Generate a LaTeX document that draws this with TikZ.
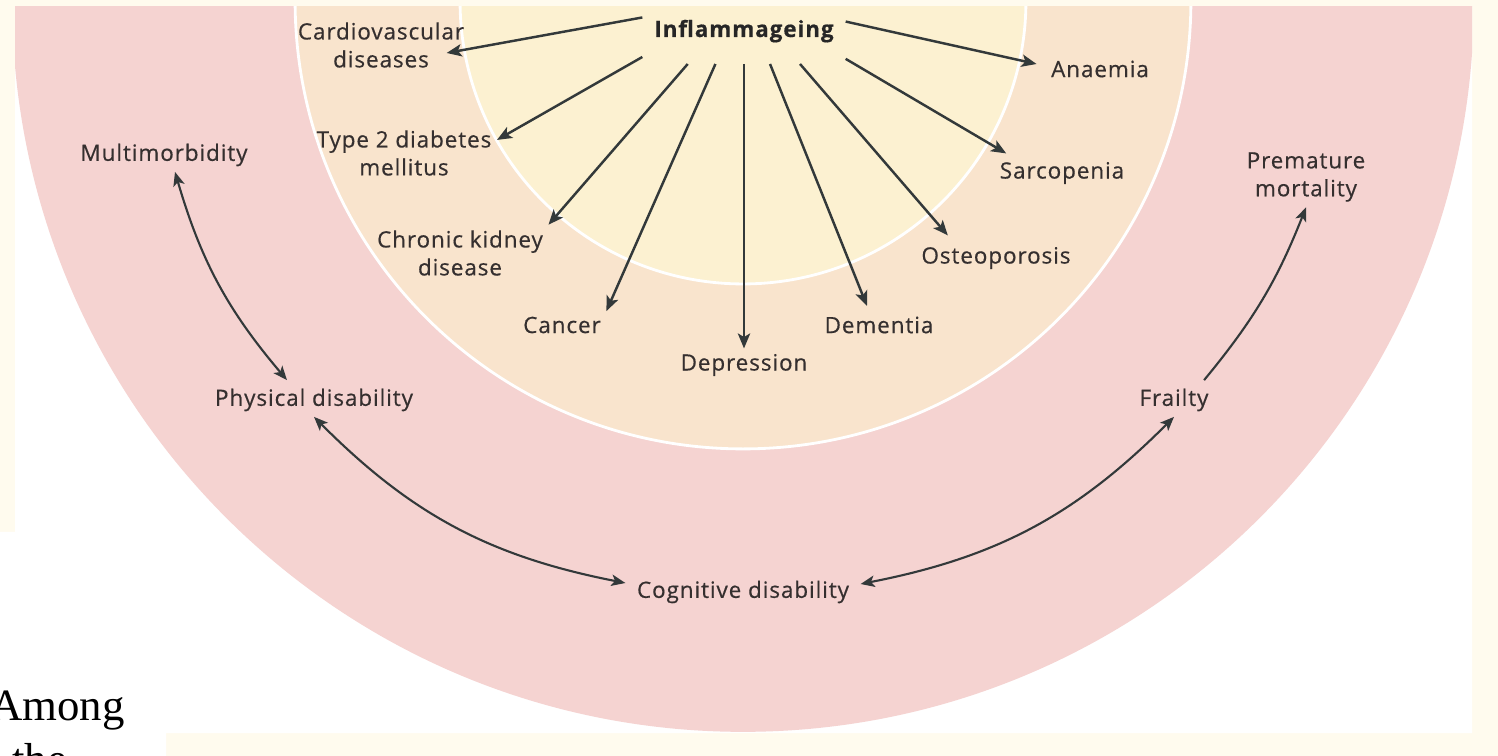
\documentclass[tikz,border=0pt]{standalone}
\usepackage{fontspec}
\newfontfamily\labelfont{Open Sans}[LetterSpace=4,FakeBold=0.5]
\newfontfamily\pagefont{Liberation Serif}
\usetikzlibrary{arrows.meta}

\definecolor{pagecream}{HTML}{FFFBEE}
\definecolor{outerpink}{HTML}{F5D3D1}
\definecolor{midbeige}{HTML}{F9E4CD}
\definecolor{innercream}{HTML}{FCF1D1}
\definecolor{textgrey}{HTML}{352F2F}
\definecolor{arrowgrey}{HTML}{33393A}

\tikzset{
  term/.style={font=\labelfont\fontsize{12.8pt}{15.9pt}\selectfont, text=textgrey, align=center, inner sep=3pt},
  spoke/.style={draw=arrowgrey, line width=1.4pt, -{Stealth[length=8.5pt,width=7pt,inset=2pt]}},
  ringlink/.style={draw=arrowgrey, line width=1.2pt, {Stealth[length=8pt,width=6.5pt,inset=2pt]}-{Stealth[length=8pt,width=6.5pt,inset=2pt]}},
  ringarrow/.style={draw=arrowgrey, line width=1.2pt, -{Stealth[length=8pt,width=6.5pt,inset=2pt]}}
}

\begin{document}
\begin{tikzpicture}[x=0.02cm,y=0.02cm]
    \useasboundingbox (0,0) rectangle (1498,-756);
    \clip (0,0) rectangle (1498,-756);

    % Page behind the figure
    \fill[pagecream] (0,0) rectangle (1498,-756);
    \fill[white] (15,-7) -- (1472,-7) -- (1472,-733) -- (166,-733) -- (166,-756)
        -- (0,-756) -- (0,-532) -- (15,-532) -- cycle;
    \node[font=\pagefont\fontsize{25.5pt}{30pt}\selectfont, anchor=base west, inner sep=0pt] (among) at (-10,-720) {Among};
    \node[font=\pagefont\fontsize{25.5pt}{30pt}\selectfont, anchor=base west, inner sep=0pt] (the) at (12,-774) {the};

    % Rings
    \begin{scope}
        \clip (15,-7) rectangle (1472,-733);
        \fill[outerpink] (743,-1) circle [radius=14.62cm];
        \filldraw[fill=midbeige, draw=white, line width=1.6pt] (743,-1) circle [radius=8.96cm];
        \filldraw[fill=innercream, draw=white, line width=1.6pt] (743,-1) circle [radius=5.66cm];
    \end{scope}

    % Inflammageing and the diseases
    \node[term, font=\labelfont\bfseries\fontsize{12.8pt}{15.9pt}\selectfont, text=black!85, anchor=base,
        text height=1.64cm, text depth=0.12cm, inner xsep=0.08cm, inner ysep=0pt,
        outer xsep=0.16cm, outer ysep=0.42cm] (inf) at (744,-37) {Inflammageing};
    \node[term] (cardio) at (381,-45) {Cardiovascular\\diseases};
    \node[term] (anaemia) at (1100,-69) {Anaemia};
    \node[term] (t2d) at (404,-153) {Type 2 diabetes\\mellitus};
    \node[term] (sarc) at (1062,-173) {Sarcopenia};
    \node[term] (ckd) at (460,-253) {Chronic kidney\\disease};
    \node[term] (osteo) at (996,-258) {Osteoporosis};
    \node[term] (cancer) at (562,-325) {Cancer};
    \node[term] (dementia) at (879,-325) {Dementia};
    \node[term] (depression) at (744,-365) {Depression};

    \draw[spoke] (inf) -- ([shift={(-23,-8)}]cardio.east);
    \draw[spoke] (inf) -- ([shift={(-9,5)}]anaemia.west);
    \draw[spoke] (inf) -- (t2d.8);
    \draw[spoke] (inf) -- (ckd.north east);
    \draw[spoke] (inf) -- (cancer.north east);
    \draw[spoke] (inf) -- (depression.north);
    \draw[spoke] (inf) -- ([shift={(-12,5)}]dementia.north);
    \draw[spoke] (inf) -- ([shift={(32,6)}]osteo.north west);
    \draw[spoke] (inf) -- ([shift={(12,3)}]sarc.north west);

    % Outcomes in the outer ring
    \node[term] (multi) at (164,-155) {Multimorbidity};
    \node[term] (phys) at (314,-400) {Physical disability};
    \node[term] (cog) at (743,-592) {Cognitive disability};
    \node[term] (frail) at (1174,-400) {Frailty};
    \node[term] (prem) at (1306,-177) {Premature\\mortality};

    \draw[ringlink] ([shift={(11,0)}]multi.south) to[bend right=12] ([shift={(-27,3)}]phys.north);
    \draw[ringlink] (phys.south) to[bend right=17] ([shift={(-6,9)}]cog.west);
    \draw[ringlink] ([shift={(6,8)}]cog.east) to[bend right=17] (frail.south);
    \draw[ringarrow] ([shift={(-10,3)}]frail.north east) to[bend right=9] (prem.south);
\end{tikzpicture}
\end{document}
